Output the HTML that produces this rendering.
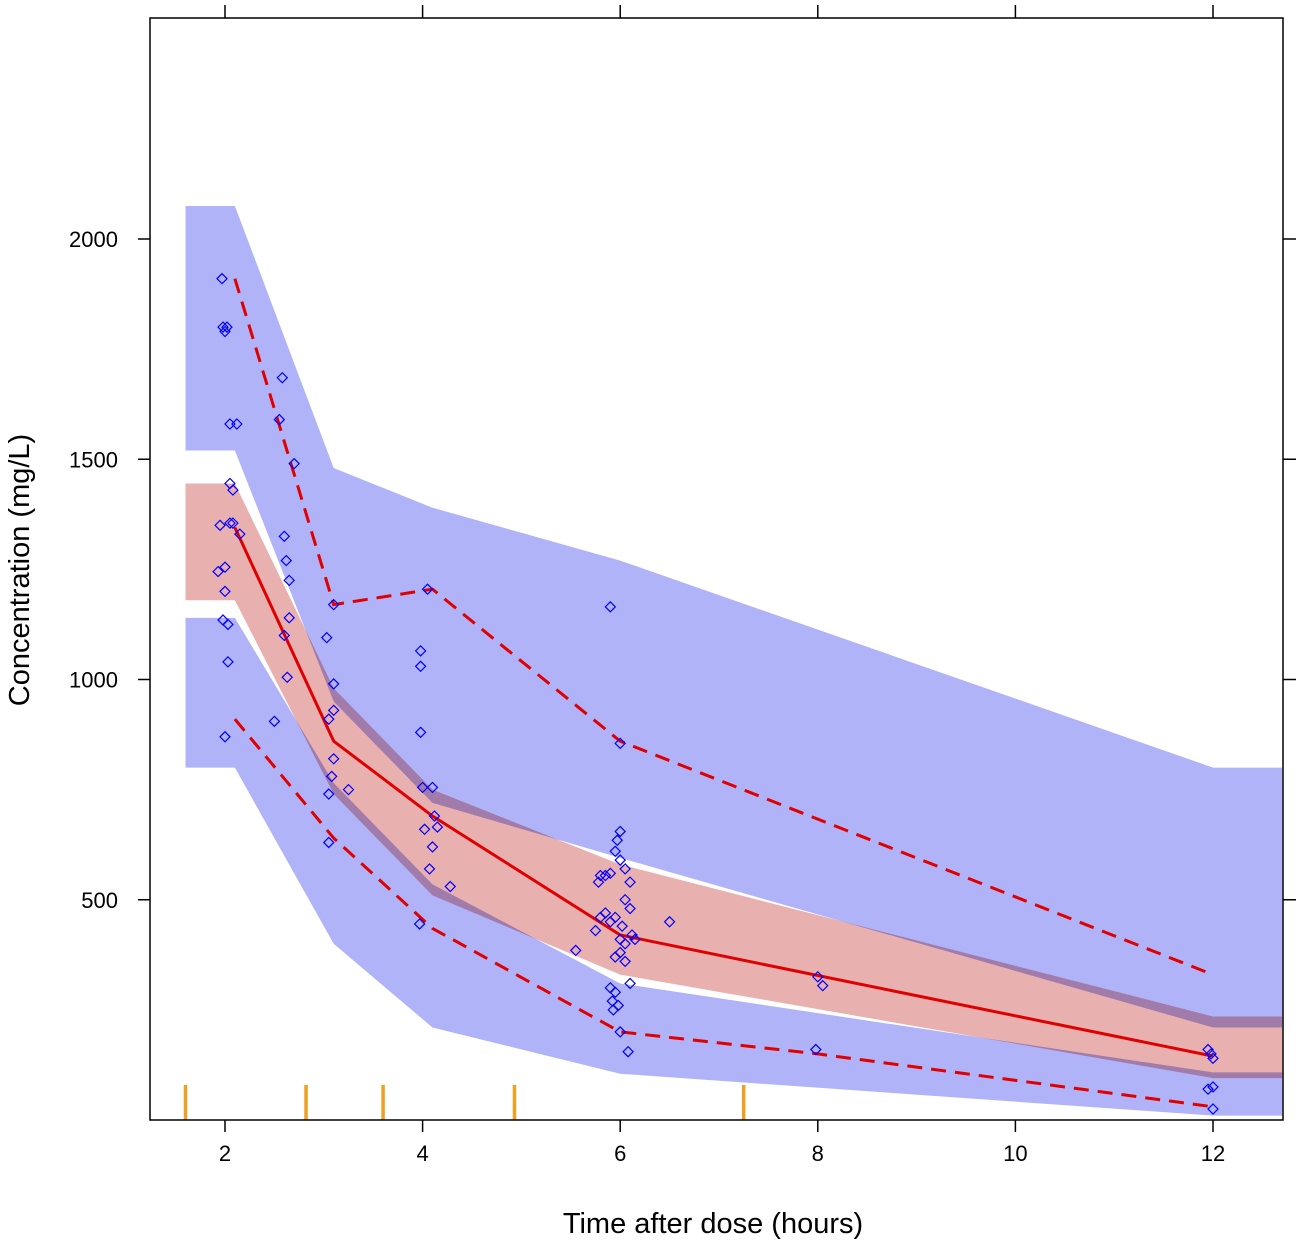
<!DOCTYPE html>
<html><head><meta charset="utf-8">
<style>
html,body{margin:0;padding:0;background:#fff;}
svg{display:block;font-family:"Liberation Sans",Arial,sans-serif;}
</style></head>
<body>
<svg id="chart" width="1301" height="1243" viewBox="0 0 1301 1243" xmlns="http://www.w3.org/2000/svg">
<g id="bands"></g>
<g id="lines"></g>
<g id="points"></g>
<g id="rug"></g>
<rect x="150" y="18" width="1133" height="1102" fill="none" stroke="#000" stroke-width="1.5"/>
<g id="axes"></g>
<text x="713" y="1233" font-size="29" text-anchor="middle" fill="#000">Time after dose (hours)</text>
<text x="0" y="0" font-size="29" text-anchor="middle" fill="#000" transform="translate(29,570) rotate(-90)">Concentration (mg/L)</text>
</svg>
<script>
const xTicks=[2,4,6,8,10,12];
const yTicks=[500,1000,1500,2000];
// bands (x, value)
const upperBandX=[1.6,2.1,2.1,3.1,4.1,6,12,12.7];
const upperBandTop=[2075,2075,2075,1480,1390,1270,800,800];
const upperBandBot=[1520,1520,1520,950,720,595,210,210];
const lowerBandX=[1.6,2.1,2.1,3.1,4.1,6,12,12.7];
const lowerBandTop=[1140,1140,1140,765,535,310,108,108];
const lowerBandBot=[800,800,800,400,210,105,10,10];
const medBandX=[1.6,2.1,2.1,3.1,4.1,6,12,12.7];
const medBandTop=[1445,1445,1445,980,750,580,235,235];
const medBandBot=[1180,1180,1180,740,510,330,95,95];
// observed percentiles
const obsX=[2.1,3.1,4.1,6,8,12];
const obsMedian=[1345,860,690,420,328,145];
const obsUpper=[1910,1170,1205,860,683,330];
const obsLower=[910,640,435,200,150,30];
const rugX=[1.6,2.82,3.6,4.93,7.25];
const ptX=[1.97,1.98,2.0,2.02,2.05,2.12,2.05,2.08,2.05,2.08,1.95,2.15,1.93,2.0,2.0,1.98,2.03,2.03,2.0,
2.5,2.55,2.58,2.6,2.62,2.65,2.65,2.6,2.63,2.7,
3.03,3.05,3.1,3.1,3.1,3.05,3.08,3.1,3.05,3.25,
3.98,3.98,3.98,4.0,4.1,4.05,4.02,4.12,4.1,4.15,4.07,4.28,3.97,
5.9,6.0,6.0,5.97,5.95,5.8,5.85,5.78,6.0,6.05,6.1,5.9,5.85,5.8,5.9,6.05,6.1,5.95,6.02,6.12,6.15,6.0,6.05,6.0,5.95,6.05,5.75,5.55,6.5,5.9,5.95,5.92,5.93,5.98,6.0,6.1,6.08,
8.0,8.05,7.98,
11.95,12.0,11.95,12.0,12.0,11.98];
const ptY=[1910,1800,1790,1800,1580,1580,1445,1430,1355,1355,1350,1330,1245,1255,1200,1135,1125,1040,870,
905,1590,1685,1325,1270,1225,1140,1100,1005,1490,
1095,910,1170,990,930,740,780,820,630,750,
1065,1030,880,755,755,1205,660,690,620,665,570,530,445,
1165,855,655,635,610,555,555,540,590,570,540,560,470,460,450,500,480,460,440,420,410,410,400,380,370,360,430,385,450,300,290,270,250,260,200,310,155,
325,305,160,
160,140,70,75,25,150];

const NS='http://www.w3.org/2000/svg';
const sx=v=>225+(v-2)*98.8;
const sy=v=>1120-v*0.4405;
function mk(tag,attrs,parent){const e=document.createElementNS(NS,tag);for(const k in attrs)e.setAttribute(k,attrs[k]);parent.appendChild(e);return e;}
function band(xs,top,bot,fill,name,blend){
  let pts=[];
  for(let i=0;i<xs.length;i++)pts.push(sx(xs[i])+','+sy(top[i]));
  for(let i=xs.length-1;i>=0;i--)pts.push(sx(xs[i])+','+sy(bot[i]));
  const p=mk('polygon',{points:pts.join(' '),fill:fill},document.getElementById('bands'));
  if(blend)p.style.mixBlendMode='multiply';
  
  
}
band(upperBandX,upperBandTop,upperBandBot,'#b0b3f8','upper-percentile-band');
band(lowerBandX,lowerBandTop,lowerBandBot,'#b0b3f8','lower-percentile-band');
band(medBandX,medBandTop,medBandBot,'#e9b0b0','median-band',true);

function line(vals,name,dash){
  const pts=obsX.map((x,i)=>sx(x)+','+sy(vals[i])).join(' ');
  const a={points:pts,fill:'none',stroke:'#e00000','stroke-width':3};
  if(dash)a['stroke-dasharray']='15 9';
  const l=mk('polyline',a,document.getElementById('lines'));
  
  
}
line(obsMedian,'observed-median-line',false);
line(obsUpper,'observed-upper-line',true);
line(obsLower,'observed-lower-line',true);

const pg=document.getElementById('points');
for(let i=0;i<ptX.length;i++){
  const cx=sx(ptX[i]),cy=sy(ptY[i]),r=5;
  const d=mk('polygon',{points:`${cx},${cy-r} ${cx+r},${cy} ${cx},${cy+r} ${cx-r},${cy}`,fill:'none',stroke:'#0000ff','stroke-width':1.2},pg);
  
  
}
const rg=document.getElementById('rug');
rugX.forEach(x=>{
  const r=mk('line',{x1:sx(x),x2:sx(x),y1:1085,y2:1120,stroke:'#f0a020','stroke-width':3.5},rg);
  
  
});
const ax=document.getElementById('axes');
xTicks.forEach(v=>{
  const x=sx(v);
  mk('line',{x1:x,x2:x,y1:1120,y2:1132,stroke:'#000','stroke-width':1.5},ax);
  mk('line',{x1:x,x2:x,y1:5,y2:18,stroke:'#000','stroke-width':1.5},ax);
  const t=mk('text',{x:x,y:1161,'font-size':22,'text-anchor':'middle'},ax);
  t.textContent=v;
  
  
});
yTicks.forEach(v=>{
  const y=sy(v);
  mk('line',{x1:138,x2:150,y1:y,y2:y,stroke:'#000','stroke-width':1.5},ax);
  mk('line',{x1:1283,x2:1296,y1:y,y2:y,stroke:'#000','stroke-width':1.5},ax);
  const t=mk('text',{x:118,y:y+8,'font-size':22,'text-anchor':'end'},ax);
  t.textContent=v;
  
  
});
</script>
</body></html>
